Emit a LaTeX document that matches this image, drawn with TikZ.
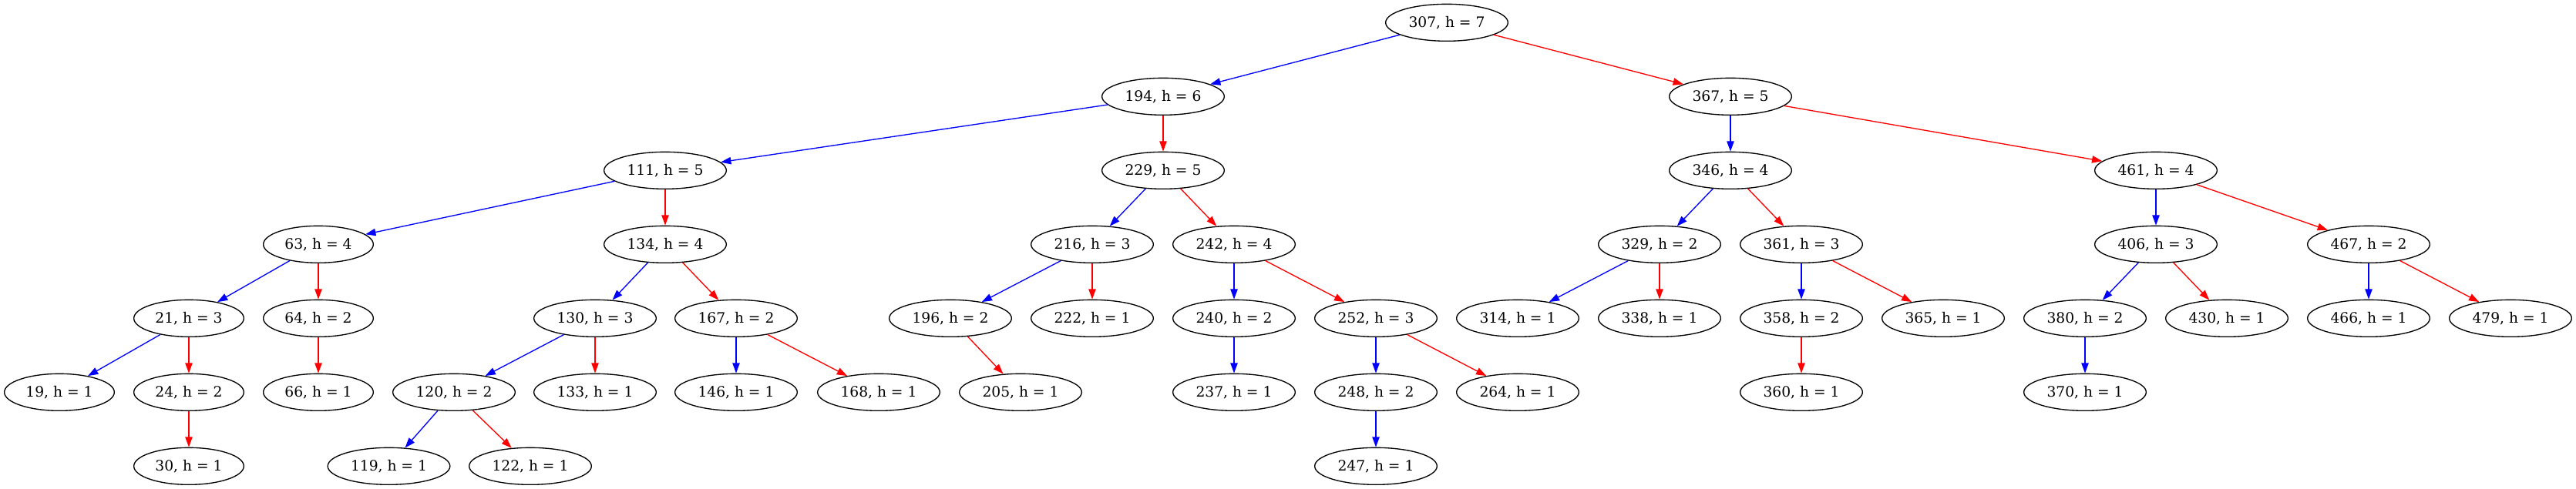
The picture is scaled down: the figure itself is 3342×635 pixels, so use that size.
\documentclass[tikz,border=0pt]{standalone}
\usepackage{fontspec}
\setmainfont{DejaVu Serif}
\usetikzlibrary{shapes.geometric,arrows.meta}
\tikzset{
  nd/.style={ellipse, draw=black, line width=1pt, minimum height=36pt, inner sep=0pt,
             font=\fontsize{14pt}{16pt}\selectfont},
  two/.style={nd, minimum width=107pt},
  three/.style={nd, minimum width=119pt},
  le/.style={draw=blue, line width=1pt, -{Triangle[length=10pt,width=7pt,fill=blue]}},
  ri/.style={draw=red, line width=1pt, -{Triangle[length=10pt,width=7pt,fill=red]}}
}
\begin{document}
\begin{tikzpicture}[x=0.75pt,y=0.75pt]
\useasboundingbox (0,0) rectangle (3342,-635);
% row 0
\node[three] (n307) at (1877,-29.33) {307, h = 7};
% row 1
\node[three] (n194) at (1509,-125.33) {194, h = 6};
\node[three] (n367) at (2245,-125.33) {367, h = 5};
% row 2
\node[three] (n111) at (863,-221.33) {111, h = 5};
\node[three] (n229) at (1509,-221.33) {229, h = 5};
\node[three] (n346) at (2245,-221.33) {346, h = 4};
\node[three] (n461) at (2797,-221.33) {461, h = 4};
% row 3
\node[two]   (n63)  at (413,-317.33) {63, h = 4};
\node[three] (n134) at (863,-317.33) {134, h = 4};
\node[three] (n216) at (1417,-317.33) {216, h = 3};
\node[three] (n242) at (1601,-317.33) {242, h = 4};
\node[three] (n329) at (2153,-317.33) {329, h = 2};
\node[three] (n361) at (2337,-317.33) {361, h = 3};
\node[three] (n406) at (2797,-317.33) {406, h = 3};
\node[three] (n467) at (3073,-317.33) {467, h = 2};
% row 4
\node[two]   (n21)  at (245,-413.33) {21, h = 3};
\node[two]   (n64)  at (413,-413.33) {64, h = 2};
\node[three] (n130) at (772,-413.33) {130, h = 3};
\node[three] (n167) at (955,-413.33) {167, h = 2};
\node[three] (n196) at (1233,-413.33) {196, h = 2};
\node[three] (n222) at (1417,-413.33) {222, h = 1};
\node[three] (n240) at (1601,-413.33) {240, h = 2};
\node[three] (n252) at (1785,-413.33) {252, h = 3};
\node[three] (n314) at (1969,-413.33) {314, h = 1};
\node[three] (n338) at (2153,-413.33) {338, h = 1};
\node[three] (n358) at (2337,-413.33) {358, h = 2};
\node[three] (n365) at (2521,-413.33) {365, h = 1};
\node[three] (n380) at (2705,-413.33) {380, h = 2};
\node[three] (n430) at (2889,-413.33) {430, h = 1};
\node[three] (n466) at (3073,-413.33) {466, h = 1};
\node[three] (n479) at (3257,-413.33) {479, h = 1};
% row 5
\node[two]   (n19)  at (77,-509.33) {19, h = 1};
\node[two]   (n24)  at (245,-509.33) {24, h = 2};
\node[two]   (n66)  at (413,-509.33) {66, h = 1};
\node[three] (n120) at (589,-509.33) {120, h = 2};
\node[three] (n133) at (772,-509.33) {133, h = 1};
\node[three] (n146) at (955,-509.33) {146, h = 1};
\node[three] (n168) at (1140,-509.33) {168, h = 1};
\node[three] (n205) at (1324,-509.33) {205, h = 1};
\node[three] (n237) at (1601,-509.33) {237, h = 1};
\node[three] (n248) at (1785,-509.33) {248, h = 2};
\node[three] (n264) at (1969,-509.33) {264, h = 1};
\node[three] (n360) at (2337,-509.33) {360, h = 1};
\node[three] (n370) at (2705,-509.33) {370, h = 1};
% row 6
\node[two]   (n30)  at (245,-605.33) {30, h = 1};
\node[three] (n119) at (504.5,-605.33) {119, h = 1};
\node[three] (n122) at (688,-605.33) {122, h = 1};
\node[three] (n247) at (1785,-605.33) {247, h = 1};
% edges
\draw[le] (n307) -- (n194);
\draw[ri] (n307) -- (n367);
\draw[le] (n194) -- (n111);
\draw[ri] (n194) -- (n229);
\draw[le] (n367) -- (n346);
\draw[ri] (n367) -- (n461);
\draw[le] (n111) -- (n63);
\draw[ri] (n111) -- (n134);
\draw[le] (n229) -- (n216);
\draw[ri] (n229) -- (n242);
\draw[le] (n346) -- (n329);
\draw[ri] (n346) -- (n361);
\draw[le] (n461) -- (n406);
\draw[ri] (n461) -- (n467);
\draw[le] (n63) -- (n21);
\draw[ri] (n63) -- (n64);
\draw[le] (n134) -- (n130);
\draw[ri] (n134) -- (n167);
\draw[le] (n216) -- (n196);
\draw[ri] (n216) -- (n222);
\draw[le] (n242) -- (n240);
\draw[ri] (n242) -- (n252);
\draw[le] (n329) -- (n314);
\draw[ri] (n329) -- (n338);
\draw[le] (n361) -- (n358);
\draw[ri] (n361) -- (n365);
\draw[le] (n406) -- (n380);
\draw[ri] (n406) -- (n430);
\draw[le] (n467) -- (n466);
\draw[ri] (n467) -- (n479);
\draw[le] (n21) -- (n19);
\draw[ri] (n21) -- (n24);
\draw[ri] (n64) -- (n66);
\draw[le] (n130) -- (n120);
\draw[ri] (n130) -- (n133);
\draw[le] (n167) -- (n146);
\draw[ri] (n167) -- (n168);
\draw[ri] (n196) -- (n205);
\draw[le] (n240) -- (n237);
\draw[le] (n252) -- (n248);
\draw[ri] (n252) -- (n264);
\draw[ri] (n358) -- (n360);
\draw[le] (n380) -- (n370);
\draw[ri] (n24) -- (n30);
\draw[le] (n120) -- (n119);
\draw[ri] (n120) -- (n122);
\draw[le] (n248) -- (n247);
\end{tikzpicture}
\end{document}
